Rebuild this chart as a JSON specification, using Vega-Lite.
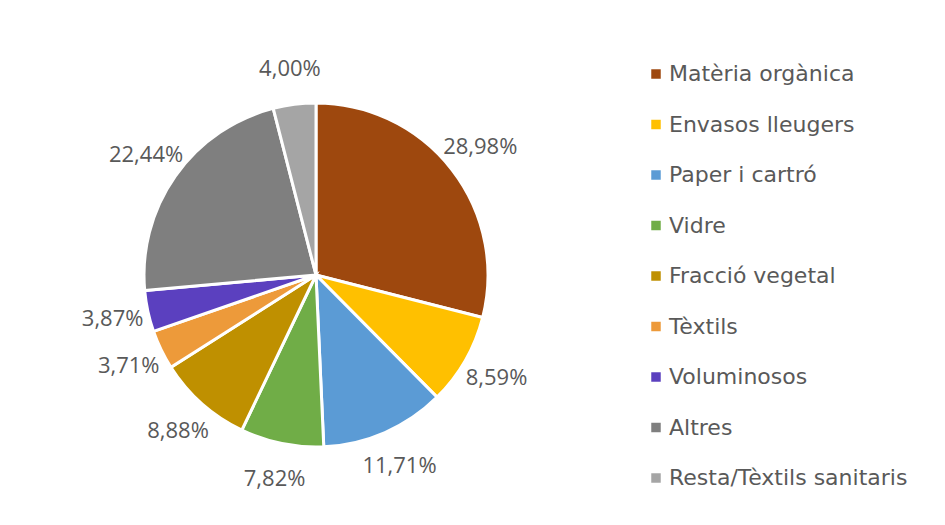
{
  "$schema": "https://vega.github.io/schema/vega-lite/v6.json",
  "width": 622,
  "height": 500,
  "autosize": "none",
  "padding": {"left": 5, "top": 25, "right": 318, "bottom": 0},
  "background": "white",
  "config": {"view": {"stroke": null}},
  "data": {
    "values": [
      {"cat": "Matèria orgànica", "value": 28.98, "label": "28,98%", "idx": 1},
      {"cat": "Envasos lleugers", "value": 8.59, "label": "8,59%", "idx": 2},
      {"cat": "Paper i cartró", "value": 11.71, "label": "11,71%", "idx": 3},
      {"cat": "Vidre", "value": 7.82, "label": "7,82%", "idx": 4},
      {"cat": "Fracció vegetal", "value": 8.88, "label": "8,88%", "idx": 5},
      {"cat": "Tèxtils", "value": 3.71, "label": "3,71%", "idx": 6},
      {"cat": "Voluminosos", "value": 3.87, "label": "3,87%", "idx": 7},
      {"cat": "Altres", "value": 22.44, "label": "22,44%", "idx": 8},
      {"cat": "Resta/Tèxtils sanitaris", "value": 4.0, "label": "4,00%", "idx": 9}
    ]
  },
  "encoding": {
    "theta": {"field": "value", "type": "quantitative", "stack": true},
    "order": {"field": "idx", "type": "quantitative"}
  },
  "layer": [
    {
      "mark": {"type": "arc", "outerRadius": 172, "stroke": "white", "strokeWidth": 3},
      "encoding": {
        "color": {
          "field": "cat",
          "type": "nominal",
          "sort": null,
          "scale": {
            "domain": ["Matèria orgànica", "Envasos lleugers", "Paper i cartró", "Vidre", "Fracció vegetal", "Tèxtils", "Voluminosos", "Altres", "Resta/Tèxtils sanitaris"],
            "range": ["#9E480E", "#FFC000", "#5B9BD5", "#70AD47", "#BF9000", "#ED9A3A", "#5B40BF", "#7F7F7F", "#A5A5A5"]
          },
          "legend": {
            "title": null,
            "orient": "none",
            "legendX": 640,
            "legendY": 38,
            "padding": 0,
            "symbolType": "square",
            "symbolSize": 90,
            "symbolStrokeWidth": 0,
            "labelFont": "DejaVu Sans",
            "labelFontSize": 22,
            "labelColor": "#595959",
            "labelOffset": 2,
            "labelLimit": 400,
            "rowPadding": 28.5
          }
        }
      }
    },
    {
      "mark": {"type": "text", "radius": 208, "font": "Open Sans", "fontSize": 22, "fill": "#595959", "align": "center", "baseline": "middle"},
      "encoding": {
        "text": {"field": "label", "type": "nominal"}
      }
    }
  ]
}
